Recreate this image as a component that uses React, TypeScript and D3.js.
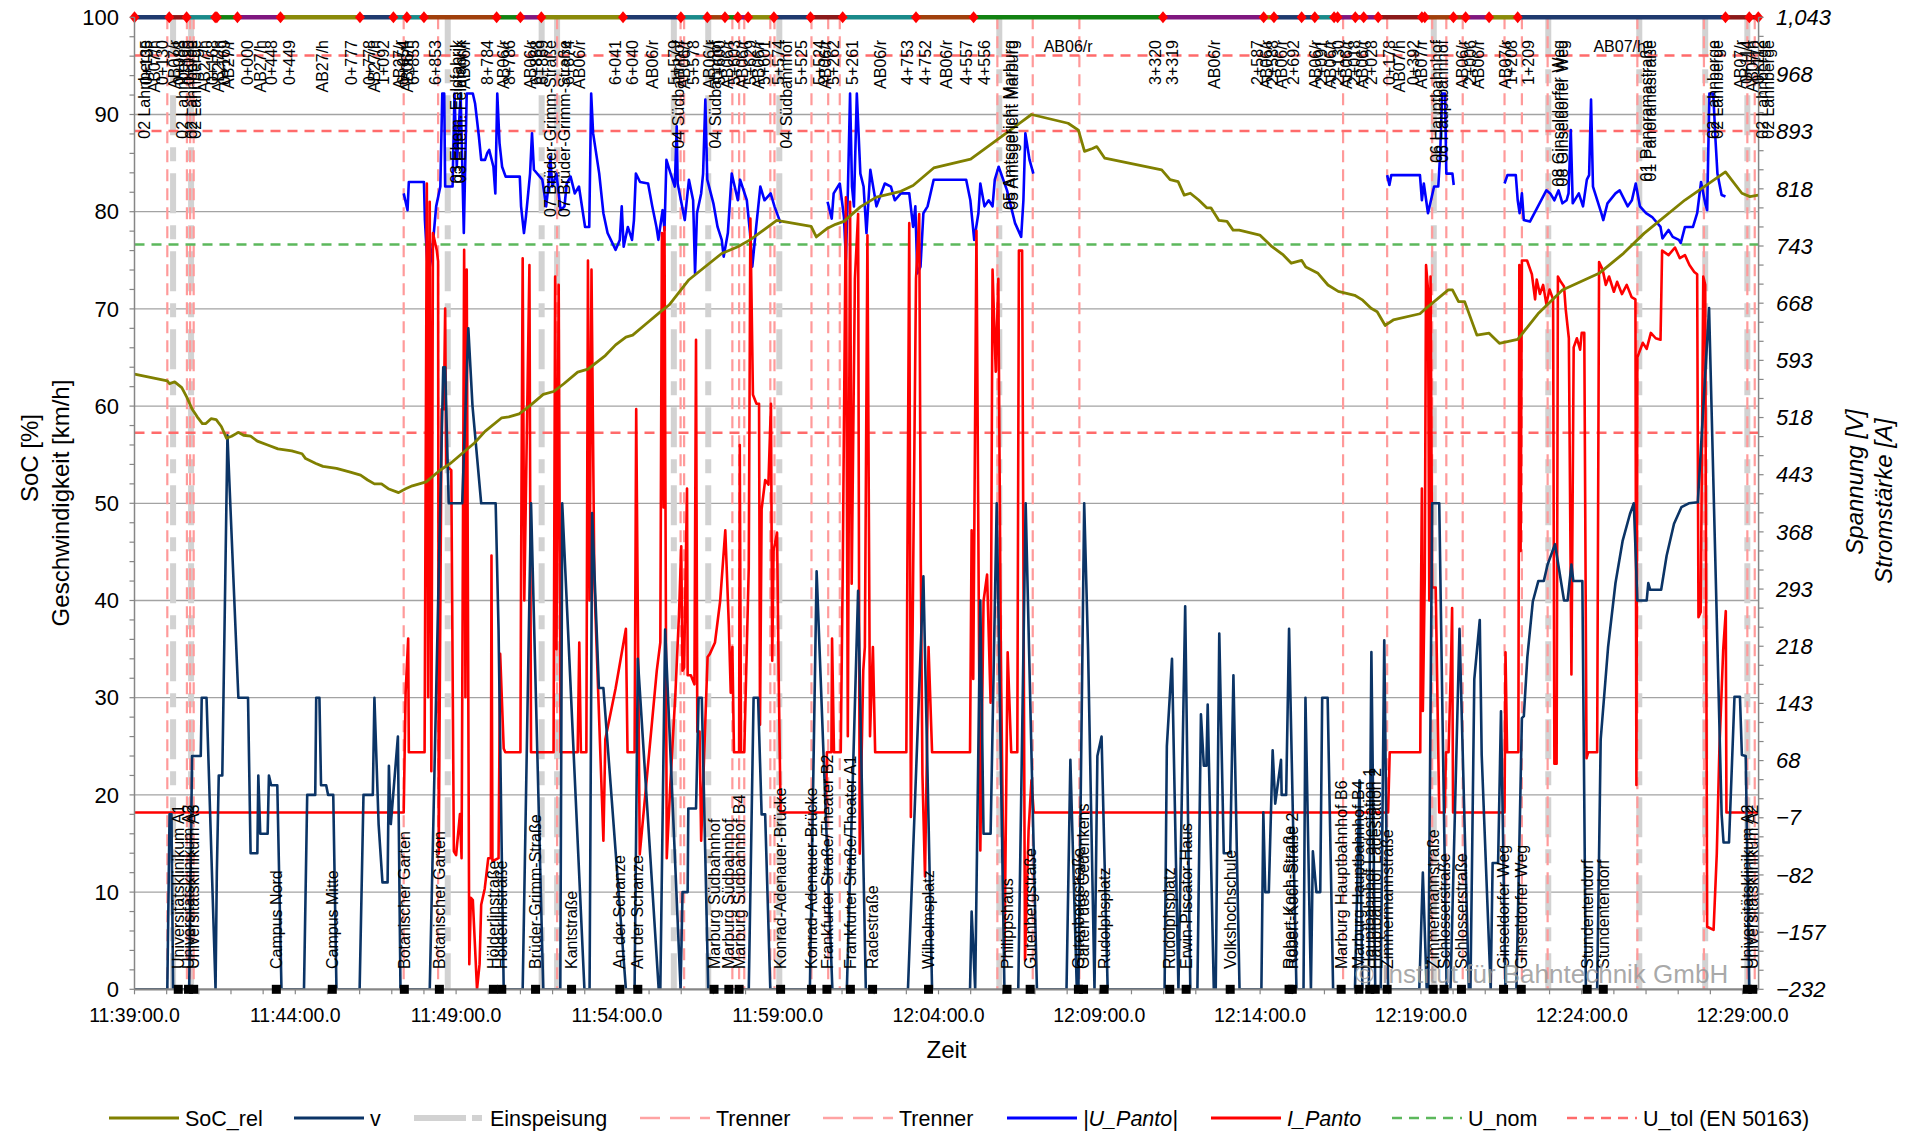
import React from "react";
import * as d3 from "d3";

// ---------------- DATA (time = minutes after 11:39:00) ----------------
const START = new Date(2023, 0, 1, 11, 39, 0);
const END_MIN = 50.5;

const socRel: [number, number][] = [
  [0,63.3],[1.02,62.6],[1.09,62.3],[1.25,62.5],[1.47,61.9],[1.63,60.9],[1.79,59.7],[1.95,58.9],[2.11,58.2],[2.22,58.2],
  [2.38,58.7],[2.54,58.6],[2.7,57.9],[2.86,56.7],[3.02,56.9],[3.23,57.3],[3.39,57.0],[3.61,56.9],[3.82,56.4],[4.14,56.0],
  [4.46,55.6],[4.89,55.4],[5.21,55.1],[5.32,54.6],[5.64,54.1],[5.86,53.8],[6.28,53.6],[6.71,53.2],[7.03,52.9],[7.25,52.4],
  [7.46,52.0],[7.68,52.0],[7.89,51.5],[8.21,51.1],[8.43,51.5],[8.64,51.8],[9.07,52.2],[9.5,53.4],[9.82,54.1],[10.14,55.0],
  [10.57,56.2],[10.9,57.4],[11.42,58.8],[11.64,58.9],[11.96,59.2],[12.28,60.0],[12.71,61.2],[13.03,61.5],[13.35,62.3],
  [13.78,63.5],[14.1,63.8],[14.64,65.2],[14.96,66.3],[15.28,67.1],[15.49,67.3],[15.92,68.5],[16.35,69.7],[16.62,70.4],
  [17.24,73.0],[18.26,75.7],[18.76,76.4],[19.14,77.1],[19.97,79.1],[21.04,78.5],[21.2,77.4],[21.55,78.3],[21.8,78.7],
  [22.06,79.0],[22.57,80.5],[23.07,81.5],[23.83,82.1],[24.21,82.7],[24.85,84.5],[26.0,85.4],[27.89,90.0],[29.03,89.1],
  [29.35,88.4],[29.54,86.2],[29.79,86.5],[29.92,86.7],[30.17,85.5],[31.94,84.3],[32.2,83.3],[32.45,83.1],[32.64,81.7],
  [32.83,81.9],[33.09,81.2],[33.34,80.4],[33.47,80.4],[33.72,79.1],[33.97,79.0],[34.16,78.1],[34.35,78.1],[34.99,77.6],
  [35.37,76.4],[35.72,75.55],[35.97,74.7],[36.29,75.0],[36.42,74.3],[36.8,73.66],[37.11,72.46],[37.43,71.8],[37.94,71.4],
  [38.19,70.9],[38.45,70.06],[38.64,69.7],[38.89,68.3],[39.14,68.86],[39.97,69.5],[40.16,70.06],[40.85,71.95],[40.98,71.95],
  [41.17,70.75],[41.36,70.75],[41.74,67.3],[42.12,67.5],[42.44,66.46],[43.01,66.87],[43.64,69.5],[44.4,71.95],[45.54,73.66],
  [46.3,75.72],[46.94,77.77],[48.21,81.2],[49.47,84.1],[49.98,81.9],[50.23,81.55],[50.49,81.7]
];

const speed: [number, number][] = [
  [0,0],[1.02,0],[1.09,18],[1.15,18],[1.2,0],[1.7,0],[1.79,24],[2.06,24],[2.09,30],[2.24,30],[2.52,0],[2.56,12],[2.62,22],
  [2.73,22],[2.89,57],[3.23,30],[3.53,30],[3.61,14],[3.82,14],[3.85,22],[3.91,16],[4.14,16],[4.18,22],[4.25,21],[4.44,21],
  [4.57,0],[5.27,0],[5.37,20],[5.62,20],[5.65,30],[5.75,30],[5.8,21],[5.96,21],[6.02,20],[6.18,20],[6.28,0],[7.0,0],
  [7.12,20],[7.41,20],[7.46,30],[7.59,17],[7.71,11],[7.87,11],[7.91,23],[7.97,17],[8.19,26],[8.27,0],[9.18,0],[9.6,64],
  [9.66,64],[9.77,50],[10.19,50],[10.38,68],[10.51,60],[10.78,50],[11.23,50],[11.32,37],[11.48,0],[12.07,0],[12.33,50],
  [12.71,0],[13.24,0],[13.3,50],[13.99,0],[14.15,0],[14.23,49],[14.44,31],[14.58,31],[15.28,0],[15.55,0],[15.65,34],
  [16.3,0],[16.35,0],[16.5,37],[16.98,0],[17.04,10],[17.2,10],[17.22,18.6],[17.46,18.6],[17.54,30],[17.64,30],[17.84,0],
  [19.1,0],[19.25,30],[19.39,30],[19.5,18],[19.61,18],[19.77,0],[21.0,0],[21.21,43],[21.7,0],[22.15,0],[22.5,41],[22.74,0],
  [24.05,0],[24.53,42.5],[24.8,0],[25.98,0],[26.03,8],[26.14,0],[26.3,40],[26.4,16],[26.62,16],[26.81,50],[27.05,0],
  [27.48,0],[27.71,50],[28.06,0],[28.98,0],[29.1,23.6],[29.3,0],[29.35,0],[29.53,50],[29.65,35],[29.85,0],[29.94,24],
  [30.07,26],[30.26,0],[32.03,0],[32.1,25],[32.26,34],[32.46,0],[32.67,39.4],[32.83,0],[33.05,0],[33.16,28.3],[33.25,23],
  [33.33,23],[33.37,29.3],[33.56,0],[33.62,0],[33.73,36.6],[33.87,14],[34.07,14],[34.17,32.3],[34.36,0],[35.04,0],[35.1,18.2],
  [35.16,10],[35.27,10],[35.39,24.6],[35.47,19.1],[35.65,23.6],[35.67,20],[35.81,20],[35.9,37.1],[36.13,0],[36.35,0],
  [36.41,30],[36.58,0],[36.64,14.2],[36.75,10],[36.87,10],[36.93,30],[37.1,30],[37.27,0],[37.95,0],[38.09,21.5],[38.18,0],
  [38.38,0],[38.46,34.7],[38.58,0],[38.75,0],[38.86,35.9],[38.98,0],[39.95,0],[40.06,12],[40.18,0],[40.23,0],[40.35,50],
  [40.57,50],[40.8,0],[40.92,0],[41.2,37.1],[41.49,0],[41.54,0],[41.66,31.9],[41.83,38],[41.89,24.1],[42.17,0],[42.23,13],
  [42.4,13],[42.49,28.6],[42.63,0],[42.97,0],[43.14,27.9],[43.2,28.1],[43.31,34.2],[43.48,39.9],[43.65,42],[43.82,42],
  [43.94,43.7],[44.17,45.8],[44.45,40],[44.56,40],[44.68,43.7],[44.74,42],[45.02,42],[45.13,0],[45.48,0],[45.59,25.7],
  [45.82,35.2],[46.05,41.8],[46.27,46.1],[46.5,48.9],[46.62,50],[46.73,40],[47.02,40],[47.07,41.8],[47.13,41.1],[47.47,41.1],
  [47.64,44.6],[47.87,47.9],[48.1,49.6],[48.33,50],[48.61,50.1],[48.96,70.1],[49.35,18],[49.41,15.1],[49.58,15.1],
  [49.75,30.1],[49.92,30.1],[49.98,24.1],[50.1,24],[50.21,0],[50.5,0]
];

const uPanto: [number, number | null][] = [
  [8.37,812],[8.49,790],[8.53,827],[9.0,827],[9.03,777],[9.13,703],[9.25,733],[9.38,795],[9.51,821],[9.57,943],[9.63,943],
  [9.66,821],[9.89,821],[9.95,943],[10.02,847],[10.14,943],[10.24,760],[10.33,943],[10.52,943],[10.59,930],[10.71,886],
  [10.78,856],[10.9,856],[10.97,865],[11.03,869],[11.16,847],[11.22,812],[11.28,943],[11.35,878],[11.43,847],[11.54,834],
  [11.98,834],[12.02,795],[12.11,760],[12.17,781],[12.3,838],[12.36,891],[12.42,843],[12.68,830],[12.8,795],[12.87,821],
  [12.93,860],[12.99,821],[13.12,838],[13.25,790],[13.37,795],[13.44,825],[13.56,834],[13.69,812],[13.82,821],[14.01,768],
  [14.14,768],[14.2,943],[14.26,891],[14.45,838],[14.58,786],[14.71,760],[14.96,738],[15.09,751],[15.15,795],[15.21,742],
  [15.34,768],[15.47,751],[15.53,777],[15.59,838],[15.72,827],[15.97,825],[16.1,795],[16.23,768],[16.29,751],[16.42,790],
  [16.48,764],[16.54,856],[16.67,838],[16.8,821],[16.86,900],[16.89,825],[16.99,803],[17.11,777],[17.24,830],[17.37,803],
  [17.43,707],[17.49,786],[17.62,812],[17.68,838],[17.75,935],[17.81,830],[18.0,799],[18.13,768],[18.26,751],[18.32,729],
  [18.45,760],[18.57,838],[18.76,803],[18.83,830],[19.04,803],[19.14,760],[19.21,716],[19.33,768],[19.46,821],[19.59,803],
  [19.78,812],[19.9,795],[20.09,773],[20.1,null],
  [21.55,801],[21.68,779],[21.74,812],[21.93,825],[22.06,781],[22.12,725],[22.18,812],[22.25,943],[22.31,821],[22.37,795],
  [22.46,943],[22.57,838],[22.67,821],[22.76,760],[22.88,843],[23.07,795],[23.33,825],[23.52,821],[23.64,803],[23.83,812],
  [24.09,812],[24.21,768],[24.28,795],[24.34,707],[24.44,716],[24.53,786],[24.66,795],[24.85,830],[25.86,830],[25.99,803],
  [26.11,751],[26.24,786],[26.3,825],[26.43,795],[26.56,803],[26.68,795],[26.75,830],[26.87,847],[27.13,816],[27.38,773],
  [27.57,755],[27.64,803],[27.7,891],[27.83,856],[27.95,838],[28.0,null],
  [38.95,836],[39.02,823],[39.08,836],[39.97,836],[40.03,803],[40.09,825],[40.22,786],[40.41,821],[40.54,821],[40.6,865],
  [40.66,943],[40.75,943],[40.79,838],[40.98,838],[41.02,823],[41.1,null],
  [42.6,825],[42.69,836],[42.95,836],[43.01,803],[43.07,786],[43.14,812],[43.2,777],[43.39,775],[43.64,795],[43.9,816],
  [44.02,812],[44.15,803],[44.28,816],[44.4,799],[44.53,803],[44.59,812],[44.66,895],[44.72,799],[44.91,812],[45.04,795],
  [45.16,830],[45.23,836],[45.29,935],[45.35,821],[45.61,786],[45.67,777],[45.8,799],[46.05,812],[46.18,816],[46.43,795],
  [46.56,803],[46.68,825],[46.81,795],[47.0,786],[47.19,781],[47.45,768],[47.51,753],[47.7,764],[47.83,755],[48.02,751],
  [48.08,747],[48.21,768],[48.46,768],[48.59,786],[48.71,827],[48.84,799],[48.9,790],[48.97,943],[49.09,943],[49.16,882],
  [49.22,838],[49.35,810],[49.47,808]
];

const iPanto: [number, number][] = [
  [0,0],[8.37,0],[8.43,157],[8.51,228],[8.53,79],[9.02,79],[9.04,297],[9.09,825],[9.13,151],[9.18,801],[9.23,54],[9.28,760],
  [9.4,737],[9.44,723],[9.46,-54],[9.55,529],[9.62,529],[9.66,661],[9.69,455],[9.85,449],[9.93,-51],[10.0,-56],[10.12,-2],
  [10.17,-60],[10.25,738],[10.29,151],[10.33,712],[10.41,-199],[10.46,-112],[10.52,-115],[10.65,-232],[10.73,-199],
  [10.78,-121],[10.89,-100],[11.0,-60],[11.08,-60],[11.1,337],[11.13,-64],[11.32,-60],[11.37,208],[11.48,84],[11.53,79],
  [12.0,79],[12.02,312],[12.07,727],[12.12,278],[12.28,718],[12.33,79],[13.03,79],[13.08,703],[13.12,214],[13.19,692],
  [13.25,79],[13.78,79],[13.83,223],[13.88,79],[14.05,79],[14.1,724],[14.15,278],[14.21,712],[14.3,300],[14.58,-37],
  [14.64,96],[14.96,163],[15.28,241],[15.33,79],[15.55,79],[15.6,529],[15.71,-55],[16.24,186],[16.35,223],[16.4,760],
  [16.45,400],[16.48,768],[16.55,-60],[16.66,36],[16.82,157],[16.93,259],[17.0,349],[17.04,186],[17.09,190],[17.18,425],
  [17.2,180],[17.3,180],[17.41,168],[17.46,620],[17.5,106],[17.57,106],[17.62,-37],[17.73,96],[17.82,204],[17.89,208],
  [18.05,223],[18.21,277],[18.37,370],[18.48,246],[18.54,157],[18.59,217],[18.64,79],[18.8,79],[18.82,482],[18.86,79],
  [18.96,79],[19.1,321],[19.15,779],[19.23,548],[19.34,536],[19.42,536],[19.45,115],[19.5,398],[19.61,436],[19.71,430],
  [19.79,536],[19.83,199],[19.87,343],[19.98,367],[20.03,180],[20.09,0],[21.5,0],[21.53,79],[21.67,79],[21.69,228],
  [21.75,79],[21.96,79],[22.02,307],[22.12,807],[22.18,100],[22.25,801],[22.3,300],[22.4,700],[22.5,785],[22.55,-54],
  [22.66,186],[22.71,217],[22.79,757],[22.87,100],[22.96,217],[23.03,79],[24.0,79],[24.09,773],[24.14,-6],[24.21,307],
  [24.3,700],[24.4,785],[24.45,325],[24.5,50],[24.58,-84],[24.69,217],[24.8,79],[25.98,79],[26.03,370],[26.08,175],
  [26.18,763],[26.3,-50],[26.4,277],[26.51,312],[26.62,144],[26.68,712],[26.78,578],[26.86,700],[26.94,200],[27.05,-192],
  [27.15,210],[27.26,79],[27.45,79],[27.5,737],[27.6,737],[27.69,-194],[27.8,-24],[27.89,42],[27.96,0],[38.98,0],[39.03,79],
  [39.98,79],[40.0,270],[40.03,425],[40.06,133],[40.12,307],[40.16,718],[40.22,686],[40.26,278],[40.3,703],[40.35,295],
  [40.46,295],[40.57,0],[40.74,0],[40.78,79],[40.86,79],[40.94,204],[40.97,268],[41.0,0],[42.6,0],[42.63,210],[42.68,79],
  [43.03,79],[43.06,718],[43.1,343],[43.14,724],[43.3,724],[43.45,706],[43.55,673],[43.6,699],[43.7,680],[43.8,692],
  [43.9,667],[44.0,686],[44.11,673],[44.15,64],[44.22,64],[44.26,703],[44.35,696],[44.45,690],[44.5,661],[44.6,622],
  [44.68,181],[44.75,610],[44.85,622],[44.95,607],[45.0,629],[45.08,629],[45.15,71],[45.2,79],[45.48,79],[45.54,722],
  [45.65,712],[45.75,692],[45.85,703],[46.0,683],[46.1,696],[46.25,680],[46.4,692],[46.55,676],[46.67,673],[46.7,36],
  [46.73,597],[46.9,616],[47.02,608],[47.15,629],[47.3,622],[47.45,620],[47.5,737],[47.7,731],[47.9,741],[48.05,727],
  [48.21,731],[48.35,718],[48.5,709],[48.59,706],[48.63,256],[48.7,263],[48.78,703],[48.84,692],[48.9,-150],[49.1,-154],
  [49.2,-54],[49.28,82],[49.4,214],[49.48,264],[49.5,0],[50.5,0]
];

const trenner: number[] = [1.02,1.63,1.73,1.84,8.37,9.44,13.14,16.98,17.09,18.59,18.8,18.96,19.77,19.9,21.05,21.57,21.93,
  26.83,27.93,29.38,37.58,38.95,40.35,40.79,41.3,42.6,43.14,43.94,46.73,48.8,50.15,50.38];
const einspeisung: number[] = [1.2,1.76,9.74,12.66,13.14,16.77,17.84,20.05,26.89,40.4,43.96,46.79,48.84,50.15];

const uNom = 745;
const uTol: number[] = [993, 894, 498];

const leftTicks: number[] = [0,10,20,30,40,50,60,70,80,90,100];
const rightTicks: number[] = [1043,968,893,818,743,668,593,518,443,368,293,218,143,68,-7,-82,-157,-232];
const timeTicksMin: number[] = [0,5,10,15,20,25,30,35,40,45,50];

const barBounds: number[] = [0,1.08,1.62,2.51,2.56,3.2,4.54,7.01,8.05,8.47,9.0,11.26,12.0,12.65,15.19,16.99,17.81,18.36,
  18.76,19.08,19.88,21.02,22.02,24.3,26.09,31.98,35.11,35.43,36.29,36.7,37.3,37.41,37.96,38.22,38.67,40.03,40.12,41.01,
  41.39,42.12,43.01,49.47,50.21,50.49];
const barKinds: string[] = ["navy","maroon","teal","teal","green","purple","olive","navy","teal","teal","sienna","green",
  "purple","olive","navy","teal","sienna","green","purple","olive","navy","maroon","teal","sienna","green","purple","olive",
  "navy","navy","teal","purple","purple","purple","purple","maroon","maroon","sienna","sienna","purple","olive","navy",
  "maroon","maroon"];

const topLabels: [number, string][] = [
  [0.32,"02 Lahnberge"],[0.38,"0+135"],[0.61,"AB07/h"],[0.86,"0+130"],[1.24,"AB07/r"],[1.4,"0+088"],[1.5,"02 Lahnberge"],
  [1.67,"0+080"],[1.78,"02 Lahnberge"],[1.9,"02 Lahnberge"],[2.16,"AB27/h"],[2.41,"0+168"],[2.6,"AB27/h"],[2.79,"0+169"],
  [2.92,"AB27/r"],[3.52,"0+000"],[3.93,"AB27/h"],[4.25,"0+448"],[4.82,"0+449"],[5.83,"AB27/h"],[6.74,"0+777"],
  [7.29,"0+778"],[7.45,"AB27/h"],[7.73,"1+092"],[8.24,"AB27/r"],[8.37,"6+854"],[8.49,"AB06/h"],[8.68,"6+855"],
  [9.36,"6+853"],[10.02,"03 Ehem. Feldfabrik"],[10.14,"03 Ehem. Feldfabrik"],[10.27,"AB06/r"],[10.97,"8+784"],
  [11.47,"AB06/r"],[11.66,"8+786"],[12.3,"AB06/r"],[12.49,"6+868"],[12.68,"6+869"],[12.93,"07 Brüder-Grimm-Straße"],
  [13.37,"07 Brüder-Grimm-Straße"],[13.5,"6+874"],[13.82,"AB06/r"],[14.96,"6+041"],[15.47,"6+040"],[16.1,"AB06/r"],
  [16.8,"5+579"],[16.92,"04 Südbahnhof"],[17.11,"AB06/r"],[17.37,"5+578"],[17.87,"AB06/r"],[18.07,"04 Südbahnhof"],
  [18.19,"5+600"],[18.45,"AB06/r"],[18.64,"5+603"],[18.89,"AB06/r"],[19.14,"5+629"],[19.4,"AB06/r"],[19.59,"5+601"],
  [20.03,"5+574"],[20.28,"04 Südbahnhof"],[20.73,"5+525"],[21.3,"5+524"],[21.49,"AB06/r"],[21.74,"5+262"],[22.31,"5+261"],
  [23.2,"AB06/r"],[24.02,"4+753"],[24.59,"4+752"],[25.23,"AB06/r"],[25.86,"4+557"],[26.43,"4+556"],
  [27.19,"05 Amtsgericht Marburg"],[27.3,"05 Amtsgericht Marburg"],[31.75,"3+320"],[32.26,"3+319"],[33.59,"AB06/r"],
  [34.92,"2+587"],[35.18,"AB06/r"],[35.37,"2+588"],[35.66,"AB06/r"],[36.04,"2+692"],[36.73,"AB06/r"],[36.92,"2+091"],
  [37.18,"AB06/r"],[37.43,"2+130"],[37.69,"AB06/r"],[37.94,"2+018"],[38.19,"AB06/r"],[38.45,"2+028"],[39.02,"0+178"],
  [39.33,"AB07/h"],[39.78,"0+392"],[40.03,"AB07/r"],[40.47,"06 Hauptbahnhof"],[40.66,"06 Hauptbahnhof"],[41.3,"AB06/r"],
  [41.55,"2+006"],[41.8,"AB06/r"],[42.63,"AB07/r"],[42.82,"1+208"],[43.33,"1+209"],[44.28,"08 Ginseldorfer Weg"],
  [44.4,"08 Ginseldorfer Weg"],[47.0,"01 Panoramastraße"],[47.13,"01 Panoramastraße"],[49.09,"02 Lahnberge"],
  [49.22,"02 Lahnberge"],[49.92,"AB07/r"],[50.11,"0+114"],[50.3,"AB07/h"],[50.49,"0+112"],[50.62,"02 Lahnberge"],
  [50.8,"02 Lahnberge"]
];
const topFlatLabels: [number, string][] = [[29.03,"AB06/r"],[46.18,"AB07/h"]];

const stations: [number, string][] = [
  [1.36,"Universitätsklinikum A1"],[1.68,"Universitätsklinikum A2"],[1.84,"Universitätsklinikum A3"],[4.41,"Campus Nord"],
  [6.15,"Campus Mitte"],[8.39,"Botanischer Garten"],[9.48,"Botanischer Garten"],[11.16,"Hölderlinstraße"],
  [11.42,"Hölderlinstraße"],[12.47,"Brüder-Grimm-Straße"],[13.59,"Kantstraße"],[15.09,"An der Schanze"],
  [15.65,"An der Schanze"],[18.02,"Marburg Südbahnhof"],[18.48,"Marburg Südbahnhof"],[18.8,"Marburg Südbahnhof B4"],
  [20.09,"Konrad-Adenauer-Brücke"],[21.05,"Konrad-Adenauer-Brücke"],[21.53,"Frankfurter Straße/Theater B2"],
  [22.26,"Frankfurter Straße/Theater A1"],[22.95,"Radestraße"],[24.69,"Wilhelmsplatz"],[27.13,"Philippshaus"],
  [27.85,"Gutenbergstraße"],[29.35,"Gutenbergstraße"],[29.51,"Garten des Gedenkens"],[30.15,"Rudolphsplatz"],
  [32.19,"Rudolphsplatz"],[32.7,"Erwin-Piscator-Haus"],[34.07,"Volkshochschule"],[35.9,"Robert-Koch-Straße"],
  [36.0,"Robert-Koch-Straße 2"],[37.52,"Marburg Hauptbahnhof B6"],[38.07,"Marburg Hauptbahnhof B4"],
  [38.41,"Hauptbahnhof Ladestation 1"],[38.58,"Hauptbahnhof Ladestation 2"],[38.95,"Zimmermannstraße"],
  [40.38,"Zimmermannstraße"],[40.72,"Schlosserstraße"],[41.26,"Schlosserstraße"],[42.57,"Ginseldorfer Weg"],
  [43.12,"Ginseldorfer Weg"],[45.17,"Stundentendorf"],[45.67,"Stundentendorf"],[50.15,"Universitätsklinikum A2"],
  [50.32,"Universitätsklinikum A2"]
];

// ---------------- COMPONENT ----------------
const FF = "'Liberation Sans', Arial, Helvetica, sans-serif";
const BAR_COLORS: Record<string, string> = {
  navy: "#1f3a6e", maroon: "#8b1a1a", teal: "#1a8a8a", green: "#128212", purple: "#7f177f", olive: "#8a8a0a", sienna: "#a0400c",
};

export default function App() {
  const W = 1917, H = 1133;
  const L = 134.5, R = 1758.6, T = 17.3, B = 989.3;
  const toDate = (m: number) => new Date(START.getTime() + m * 60000);
  const x = d3.scaleTime().domain([START, toDate(END_MIN)]).range([L, R]);
  const xm = (m: number) => x(toDate(m));
  const yL = d3.scaleLinear().domain([0, 100]).range([B, T]);
  const yR = d3.scaleLinear().domain([-232, 1043]).range([B, T]);
  const fmtTime = d3.timeFormat("%H:%M:%S");
  const fmtR = d3.format(",");

  const lineL = d3.line<[number, number]>().x(d => xm(d[0])).y(d => yL(d[1]));
  const lineR = d3.line<[number, number | null]>()
    .defined(d => d[1] !== null)
    .x(d => xm(d[0])).y(d => yR(d[1] as number));

  const minorL = d3.range(0, 101, 2);
  const minorR = d3.range(-232, 1044, 25);
  const minorT = d3.range(0, 51, 1);

  const legend = [
    { x: 109, label: "SoC_rel", stroke: "#808000", dash: "", w: 3, italic: false },
    { x: 294, label: "v", stroke: "#0b3466", dash: "", w: 3, italic: false },
    { x: 414, label: "Einspeisung", stroke: "#d2d2d2", dash: "52,6,10,6", w: 6, italic: false },
    { x: 640, label: "Trenner", stroke: "#ffa3a3", dash: "20,10", w: 2.5, italic: false },
    { x: 823, label: "Trenner", stroke: "#ffa3a3", dash: "20,10", w: 2.5, italic: false },
    { x: 1007, label: "|U_Panto|", stroke: "#0000ff", dash: "", w: 3, italic: true },
    { x: 1211, label: "I_Panto", stroke: "#ff0000", dash: "", w: 3, italic: true },
    { x: 1392, label: "U_nom", stroke: "#5cb85c", dash: "10,7", w: 2.5, italic: false },
    { x: 1567, label: "U_tol (EN 50163)", stroke: "#ff6b6b", dash: "10,7", w: 2.5, italic: false },
  ];

  return (
    <svg width={W} height={H} style={{ position: "absolute", left: 0, top: 0, background: "#fff" }} fontFamily={FF}>
      <defs>
        <clipPath id="plot"><rect x={L} y={T - 2} width={R - L} height={B - T + 2} /></clipPath>
      </defs>
      <rect x={0} y={0} width={W} height={H} fill="#fff" />

      {/* horizontal gridlines */}
      {leftTicks.filter(v => v > 0 && v < 100).map(v => (
        <line key={"g" + v} x1={L} x2={R} y1={yL(v)} y2={yL(v)} stroke="#a3a3a3" strokeWidth={1.3} />
      ))}

      {/* Einspeisung */}
      {einspeisung.map((m, i) => (
        <line key={"e" + i} x1={xm(m)} x2={xm(m)} y1={T} y2={B} stroke="#d2d2d2" strokeWidth={6} strokeDasharray="40,12,14,12" />
      ))}
      {/* Trenner */}
      {trenner.map((m, i) => (
        <line key={"t" + i} x1={xm(m)} x2={xm(m)} y1={T} y2={B} stroke="#ff9a9a" strokeWidth={2.2} strokeDasharray="12,7" />
      ))}

      {/* U_nom / U_tol */}
      <line x1={L} x2={R} y1={yR(uNom)} y2={yR(uNom)} stroke="#5cb85c" strokeWidth={2.5} strokeDasharray="10,7" />
      {uTol.map((u, i) => (
        <line key={"u" + i} x1={L} x2={R} y1={yR(u)} y2={yR(u)} stroke="#ff6b6b" strokeWidth={2.5} strokeDasharray="10,7" />
      ))}

      <g clipPath="url(#plot)" fill="none" strokeLinejoin="round">
        <path d={lineR(uPanto) || ""} stroke="#0000ff" strokeWidth={2.6} />
        <path d={lineR(iPanto) || ""} stroke="#ff0000" strokeWidth={2.6} />
        <path d={lineL(speed) || ""} stroke="#0b3466" strokeWidth={2.6} />
        <path d={lineL(socRel) || ""} stroke="#808000" strokeWidth={2.8} />
      </g>

      {/* top segmented bar */}
      {barKinds.map((k, i) => (
        <line key={"b" + i} x1={xm(barBounds[i])} x2={xm(barBounds[i + 1])} y1={T} y2={T} stroke={BAR_COLORS[k]} strokeWidth={4.5} />
      ))}
      {barBounds.map((m, i) => (
        <path key={"d" + i} transform={`translate(${xm(m)},${T})`} d="M0,-6L5,0L0,6L-5,0Z" fill="#ff0000" />
      ))}

      {/* axes */}
      <line x1={L} x2={L} y1={T} y2={B} stroke="#868686" strokeWidth={1.5} />
      <line x1={R} x2={R} y1={T} y2={B} stroke="#868686" strokeWidth={1.5} />
      <line x1={L} x2={R} y1={B} y2={B} stroke="#868686" strokeWidth={2.2} />
      {minorL.map(v => <line key={"ml" + v} x1={L - 5} x2={L} y1={yL(v)} y2={yL(v)} stroke="#868686" strokeWidth={1.2} />)}
      {minorR.map(v => <line key={"mr" + v} x1={R} x2={R + 5} y1={yR(v)} y2={yR(v)} stroke="#868686" strokeWidth={1.2} />)}
      {minorT.map(m => <line key={"mt" + m} x1={xm(m)} x2={xm(m)} y1={B} y2={B + 5} stroke="#868686" strokeWidth={1.2} />)}

      {leftTicks.map(v => (
        <text key={"lt" + v} x={119} y={yL(v)} dy="0.35em" textAnchor="end" fontSize={22} fill="#000">{v}</text>
      ))}
      {rightTicks.map(v => (
        <text key={"rt" + v} x={1776} y={yR(v)} dy="0.35em" textAnchor="start" fontSize={22} fontStyle="italic" fill="#000">{fmtR(v)}</text>
      ))}
      {timeTicksMin.map(m => (
        <text key={"xt" + m} x={xm(m)} y={1022} textAnchor="middle" fontSize={19.5} fill="#000">{fmtTime(toDate(m)) + ".0"}</text>
      ))}

      {/* axis titles */}
      <text transform="translate(30,458) rotate(-90)" dy="0.35em" textAnchor="middle" fontSize={24}>SoC [%]</text>
      <text transform="translate(61,503) rotate(-90)" dy="0.35em" textAnchor="middle" fontSize={24}>Geschwindigkeit [km/h]</text>
      <text transform="translate(1855,482) rotate(-90)" dy="0.35em" textAnchor="middle" fontSize={24} fontStyle="italic">Spannung [V]</text>
      <text transform="translate(1884,501) rotate(-90)" dy="0.35em" textAnchor="middle" fontSize={24} fontStyle="italic">Stromstärke [A]</text>
      <text x={(L + R) / 2} y={1058} textAnchor="middle" fontSize={24}>Zeit</text>

      {/* top labels */}
      {topLabels.map(([m, s], i) => (
        <text key={"tl" + i} transform={`translate(${xm(m)},40) rotate(-90)`} dy="0.35em" textAnchor="end" fontSize={16} fill="#000">{s}</text>
      ))}
      {topFlatLabels.map(([m, s], i) => (
        <text key={"tf" + i} x={xm(m)} y={52} textAnchor="middle" fontSize={16} fill="#000">{s}</text>
      ))}

      {/* station labels + markers */}
      {stations.map(([m, s], i) => (
        <text key={"sl" + i} transform={`translate(${xm(m)},969) rotate(-90)`} dy="0.35em" textAnchor="start" fontSize={16} fill="#000">{s}</text>
      ))}
      {stations.map(([m], i) => (
        <rect key={"sq" + i} x={xm(m) - 4.5} y={B - 4.5} width={9} height={9} fill="#000" />
      ))}

      {/* watermark */}
      <text x={1355} y={983} fontSize={26} fill="#9a9a9a" fillOpacity={0.85}>© Institut für Bahntechnik GmbH</text>

      {/* legend */}
      {legend.map((it, i) => (
        <g key={"lg" + i}>
          <line x1={it.x} x2={it.x + 70} y1={1118} y2={1118} stroke={it.stroke} strokeWidth={it.w} strokeDasharray={it.dash || undefined} />
          <text x={it.x + 76} y={1118} dy="0.35em" fontSize={21.5} fontStyle={it.italic ? "italic" : "normal"} fill="#000">{it.label}</text>
        </g>
      ))}
    </svg>
  );
}
